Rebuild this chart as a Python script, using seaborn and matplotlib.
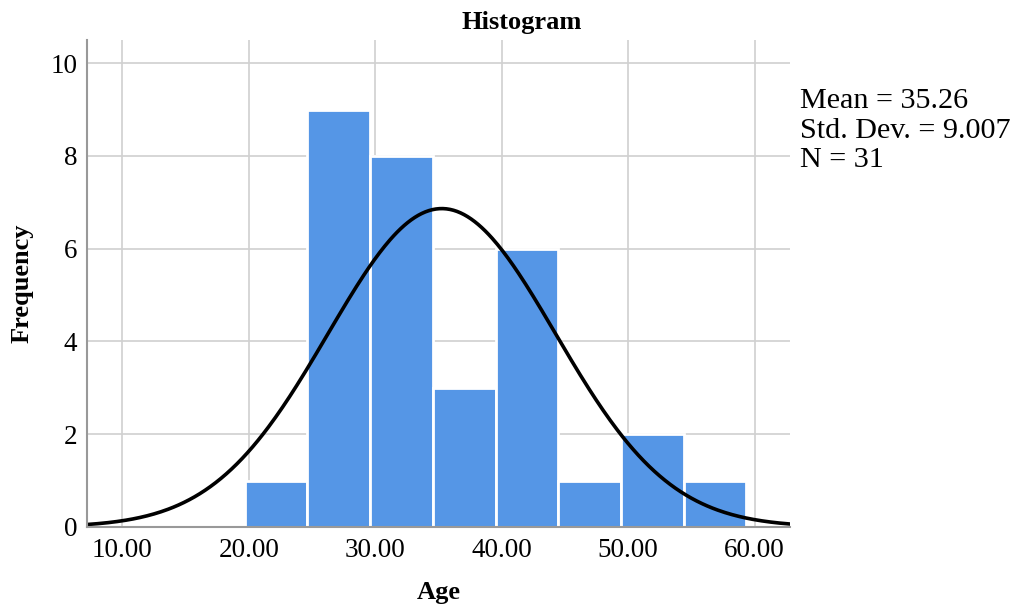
import numpy as np
import matplotlib
matplotlib.use("Agg")
import matplotlib.pyplot as plt
import seaborn as sns
from matplotlib.ticker import FormatStrFormatter

# histogram of Age
bin_edges = [19.67, 24.63, 29.59, 34.55, 39.51, 44.47, 49.43, 54.39, 59.35]
counts = [1, 9, 8, 3, 6, 1, 2, 1]

# summary stats shown on the chart
mean_age = 35.26
sd_age = 9.007
n_obs = 31
stat_lines = ["Mean = 35.26", "Std. Dev. = 9.007", "N = 31"]

x_ticks = [10, 20, 30, 40, 50, 60]
y_ticks = [0, 2, 4, 6, 8, 10]

sns.set_theme(style="white")
plt.rcParams['font.family'] = ['Liberation Serif', 'DejaVu Serif']
plt.rcParams['text.color'] = 'black'
plt.rcParams['axes.labelcolor'] = 'black'

fig = plt.figure(figsize=(10.25, 6.11), dpi=100)
ax = fig.add_axes([0.0849, 0.1375, 0.6858, 0.797])

centers = [(bin_edges[i] + bin_edges[i + 1]) / 2 for i in range(len(counts))]
sns.histplot(x=centers, weights=counts, bins=bin_edges, ax=ax,
             color="#5596e6", alpha=1, edgecolor="white", linewidth=2)

# fitted normal curve scaled to counts (bin width 5)
bw = 5.0
xs = np.linspace(7.2, 62.8, 400)
ys = n_obs * bw / (sd_age * np.sqrt(2 * np.pi)) * np.exp(-0.5 * ((xs - mean_age) / sd_age) ** 2)
sns.lineplot(x=xs, y=ys, ax=ax, color="black", linewidth=2.6)

ax.set_xlim(7.2, 62.8)
ax.set_ylim(0, 10.5)
ax.set_xticks(x_ticks)
ax.set_yticks(y_ticks)
ax.xaxis.set_major_formatter(FormatStrFormatter('%.2f'))
ax.grid(True, color="#d0d0d0", linewidth=1.2)
ax.set_axisbelow(True)
ax.tick_params(length=0, labelsize=19.5, colors="black", pad=8)
ax.tick_params(axis='y', pad=7)

for s in ["top", "right"]:
    ax.spines[s].set_visible(False)
for s in ["left", "bottom"]:
    ax.spines[s].set_color("#999999")
    ax.spines[s].set_linewidth(1.5)

fig.text(522 / 1025, 1 - 22 / 611, "Histogram", fontsize=19, fontweight="bold",
         ha="center", va="center")
ax.set_xlabel("Age", fontsize=19, fontweight="bold", labelpad=13)
ax.set_ylabel("Frequency", fontsize=19, fontweight="bold", labelpad=12)

for line, base_px in zip(stat_lines, [108, 138, 167]):
    fig.text(800 / 1025, 1 - base_px / 611, line, fontsize=21.7,
             va="baseline", ha="left")

fig.savefig("out.png", dpi=100)
